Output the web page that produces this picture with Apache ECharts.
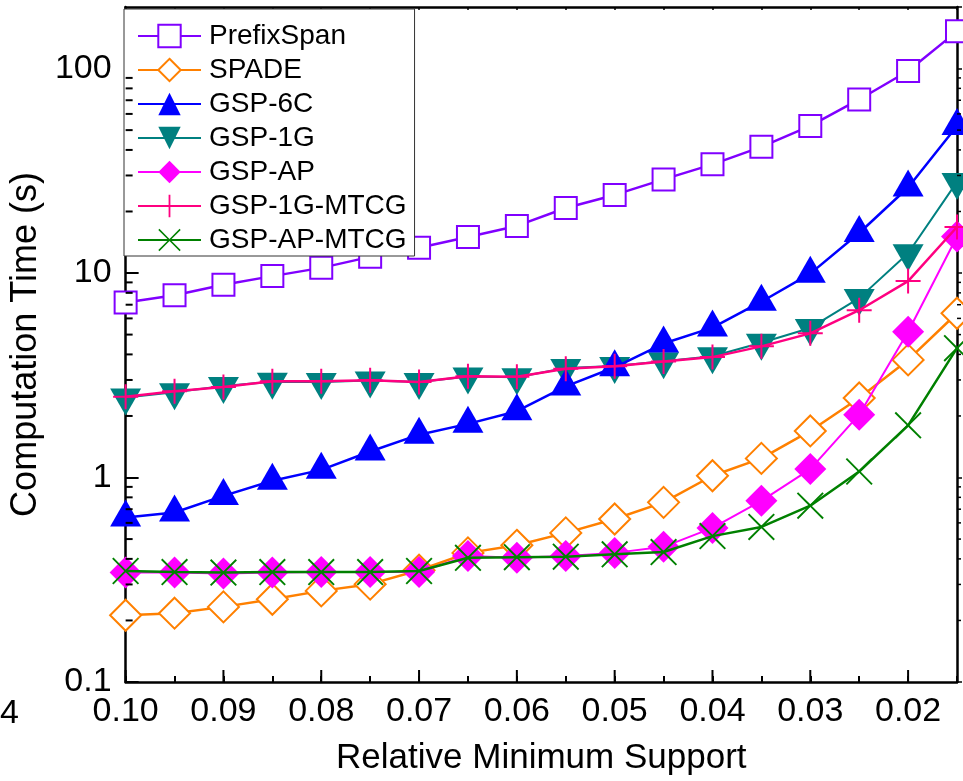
<!DOCTYPE html>
<html>
<head>
<meta charset="utf-8">
<script src="https://cdn.jsdelivr.net/npm/echarts@6/dist/echarts.min.js"></script>
<style>
  html, body { margin: 0; padding: 0; background: #fff; }
  #chart { width: 963px; height: 781px; }
</style>
</head>
<body>
<div id="chart"></div>
<script>
// Relative minimum support values (x axis, decreasing to the right)
const supports = [0.100, 0.095, 0.090, 0.085, 0.080, 0.075, 0.070, 0.065, 0.060,
                  0.055, 0.050, 0.045, 0.040, 0.035, 0.030, 0.025, 0.020, 0.015];

// Computation time in seconds for each algorithm
const prefixSpan = [7.17, 7.78, 8.77, 9.66, 10.6, 12.0, 13.3, 15.0, 17.0,
                    20.8, 24.1, 28.7, 34.0, 41.4, 52.4, 70.6, 97.3, 152];
const spade      = [0.212, 0.217, 0.233, 0.254, 0.279, 0.301, 0.352, 0.428, 0.466,
                    0.536, 0.627, 0.756, 1.02, 1.24, 1.69, 2.45, 3.76, 6.36];
const gsp6c      = [0.638, 0.674, 0.813, 0.965, 1.09, 1.34, 1.62, 1.83, 2.11,
                    2.79, 3.46, 4.52, 5.41, 7.24, 9.93, 15.7, 26.2, 52.4];
const gsp1g      = [2.46, 2.61, 2.80, 2.94, 2.93, 2.98, 2.93, 3.12, 3.09,
                    3.43, 3.51, 3.70, 3.92, 4.56, 5.39, 7.54, 12.5, 27.9];
const gspAP      = [0.343, 0.343, 0.339, 0.343, 0.345, 0.345, 0.345, 0.413, 0.405,
                    0.413, 0.428, 0.458, 0.567, 0.769, 1.10, 2.03, 5.16, 15.1];
const gsp1gMtcg  = [2.48, 2.64, 2.77, 2.96, 2.96, 2.99, 2.93, 3.13, 3.11,
                    3.40, 3.50, 3.69, 3.88, 4.38, 5.07, 6.58, 9.13, 16.8];
const gspApMtcg  = [0.349, 0.345, 0.343, 0.345, 0.345, 0.345, 0.349, 0.405, 0.408,
                    0.410, 0.421, 0.432, 0.517, 0.573, 0.728, 1.07, 1.80, 4.29];

// Tick positions
const xMajorTicks = [0.10, 0.09, 0.08, 0.07, 0.06, 0.05, 0.04, 0.03, 0.02];
const yMinorTicks = [0.2, 0.3, 0.4, 0.5, 0.6, 0.7, 0.8, 0.9,
                     2, 3, 4, 5, 6, 7, 8, 9,
                     20, 30, 40, 50, 60, 70, 80, 90];

const FONT = '"Liberation Sans", Arial, Helvetica, sans-serif';

// Plus and cross markers as thin filled outlines
const PLUS_PATH = 'path://M46,0 L54,0 L54,46 L100,46 L100,54 L54,54 L54,100 L46,100 L46,54 L0,54 L0,46 L46,46 Z';
const CROSS_PATH = 'path://M0,5 L5,0 L50,45 L95,0 L100,5 L55,50 L100,95 L95,100 L50,55 L5,100 L0,95 L45,50 Z';

function pairs(values) {
  return supports.map((s, i) => [s, values[i]]);
}

function lineSeries(name, values, opts) {
  return Object.assign({
    name: name,
    type: 'line',
    data: pairs(values),
    xAxisIndex: 0,
    yAxisIndex: 0,
    showSymbol: true,
    showAllSymbol: true,
    symbolKeepAspect: false,
    emphasis: { disabled: true },
    animation: false
  }, opts);
}

const series = [
  lineSeries('PrefixSpan', prefixSpan, {
    symbol: 'rect', symbolSize: 22, z: 2,
    lineStyle: { color: '#8000FF', width: 2.5 },
    itemStyle: { color: '#ffffff', borderColor: '#8000FF', borderWidth: 2 }
  }),
  lineSeries('SPADE', spade, {
    symbol: 'diamond', symbolSize: 31, z: 3,
    lineStyle: { color: '#FF8000', width: 2.5 },
    itemStyle: { color: '#ffffff', borderColor: '#FF8000', borderWidth: 2 }
  }),
  lineSeries('GSP-6C', gsp6c, {
    symbol: 'triangle', symbolSize: [31, 27], symbolOffset: [0, -4.5], z: 5,
    lineStyle: { color: '#0000FF', width: 2.5 },
    itemStyle: { color: '#0000FF' }
  }),
  lineSeries('GSP-1G', gsp1g, {
    symbol: 'triangle', symbolSize: [31, 27], symbolRotate: 180, symbolOffset: [0, 4.5], z: 4,
    lineStyle: { color: '#008080', width: 2 },
    itemStyle: { color: '#008080' }
  }),
  lineSeries('GSP-AP', gspAP, {
    symbol: 'diamond', symbolSize: 32, z: 6,
    lineStyle: { color: '#FF00FF', width: 2 },
    itemStyle: { color: '#FF00FF' }
  }),
  lineSeries('GSP-1G-MTCG', gsp1gMtcg, {
    symbol: PLUS_PATH, symbolSize: 25, z: 7,
    lineStyle: { color: '#FF0080', width: 2.5 },
    itemStyle: { color: '#FF0080' }
  }),
  lineSeries('GSP-AP-MTCG', gspApMtcg, {
    symbol: CROSS_PATH, symbolSize: 27, z: 8,
    lineStyle: { color: '#008000', width: 2.5 },
    itemStyle: { color: '#008000' }
  }),
  // Minor ticks of the log axis (left edge inward, right edge outward)
  {
    type: 'custom',
    name: 'yMinor',
    xAxisIndex: 0, yAxisIndex: 0,
    silent: true, z: 10, animation: false,
    data: yMinorTicks.map(v => [supports[0], v]),
    renderItem: function (params, api) {
      const cs = params.coordSys;
      const y = api.coord([api.value(0), api.value(1)])[1];
      return {
        type: 'group',
        children: [
          { type: 'line', shape: { x1: cs.x, y1: y, x2: cs.x + 7, y2: y },
            style: { stroke: '#000', lineWidth: 2 } },
          { type: 'line', shape: { x1: cs.x + cs.width, y1: y, x2: cs.x + cs.width + 4, y2: y },
            style: { stroke: '#000', lineWidth: 1.5 } }
        ]
      };
    }
  },
  // Longer ticks at labelled support values
  {
    type: 'custom',
    name: 'xMajor',
    xAxisIndex: 0, yAxisIndex: 0,
    silent: true, z: 10, animation: false,
    data: xMajorTicks.map(v => [v, 1]),
    renderItem: function (params, api) {
      const cs = params.coordSys;
      const x = api.coord([api.value(0), api.value(1)])[0];
      const yb = cs.y + cs.height;
      return { type: 'line', shape: { x1: x, y1: yb, x2: x, y2: yb - 12 },
               style: { stroke: '#000', lineWidth: 2 } };
    }
  }
];

const axisLineStyle = { color: '#000', width: 2.5 };

const option = {
  backgroundColor: '#ffffff',
  animation: false,
  grid: { left: 124, right: 6, top: 7, bottom: 96, containLabel: false },
  legend: {
    data: ['PrefixSpan', 'SPADE', 'GSP-6C', 'GSP-1G', 'GSP-AP', 'GSP-1G-MTCG', 'GSP-AP-MTCG'],
    orient: 'vertical',
    left: 124,
    top: 9,
    padding: [13, 8, 2, 13],
    itemGap: 6,
    itemWidth: 63,
    itemHeight: 28,
    backgroundColor: '#ffffff',
    borderColor: '#333',
    borderWidth: 1,
    selectedMode: false,
    textStyle: { fontFamily: FONT, fontSize: 28, color: '#000', padding: [0, 0, 0, 3] }
  },
  xAxis: [
    {
      type: 'value',
      position: 'bottom',
      inverse: true,
      min: 0.015,
      max: 0.1,
      interval: 0.005,
      name: 'Relative Minimum Support',
      nameLocation: 'middle',
      nameGap: 59,
      nameTextStyle: { fontFamily: FONT, fontSize: 35, color: '#000' },
      axisLine: { show: true, onZero: false, lineStyle: axisLineStyle },
      axisTick: { show: true, inside: true, length: 6, lineStyle: { color: '#000', width: 2 } },
      axisLabel: {
        fontFamily: FONT, fontSize: 34, color: '#000', margin: 13,
        showMinLabel: true, showMaxLabel: true,
        formatter: function (v) {
          const r = Math.round(v * 1000);
          if (r % 10 !== 0) return '';
          return (r / 1000).toFixed(2);
        }
      },
      splitLine: { show: false }
    },
    {
      type: 'value',
      position: 'top',
      inverse: true,
      min: 0.015,
      max: 0.1,
      interval: 0.005,
      axisLine: { show: true, onZero: false, lineStyle: axisLineStyle },
      axisTick: { show: true, inside: true, length: 3, lineStyle: { color: '#000', width: 1.5 } },
      axisLabel: { show: false },
      splitLine: { show: false }
    }
  ],
  yAxis: [
    {
      type: 'log',
      logBase: 10,
      position: 'left',
      min: 0.1,
      max: 200,
      name: 'Computation Time (s)',
      nameLocation: 'middle',
      nameGap: 59,
      nameRotate: 90,
      nameTextStyle: { fontFamily: FONT, fontSize: 36, color: '#000' },
      axisLine: { show: true, onZero: false, lineStyle: axisLineStyle },
      axisTick: { show: true, inside: true, length: 13, lineStyle: { color: '#000', width: 2 } },
      axisLabel: {
        fontFamily: FONT, fontSize: 34, color: '#000', margin: 14,
        showMaxLabel: false,
        formatter: function (v) { return String(+Number(v).toPrecision(3)); }
      },
      splitLine: { show: false }
    },
    {
      type: 'log',
      logBase: 10,
      position: 'right',
      min: 0.1,
      max: 200,
      axisLine: { show: true, onZero: false, lineStyle: axisLineStyle },
      axisTick: { show: true, inside: false, length: 5, lineStyle: { color: '#000', width: 1.5 } },
      axisLabel: { show: false },
      splitLine: { show: false }
    }
  ],
  graphic: [
    {
      type: 'text',
      left: 0,
      top: 697,
      style: { text: '4', font: '34px ' + FONT, fill: '#000' }
    }
  ],
  series: series
};

const chart = echarts.init(document.getElementById('chart'), null, { renderer: 'canvas' });
chart.setOption(option);
</script>
</body>
</html>
